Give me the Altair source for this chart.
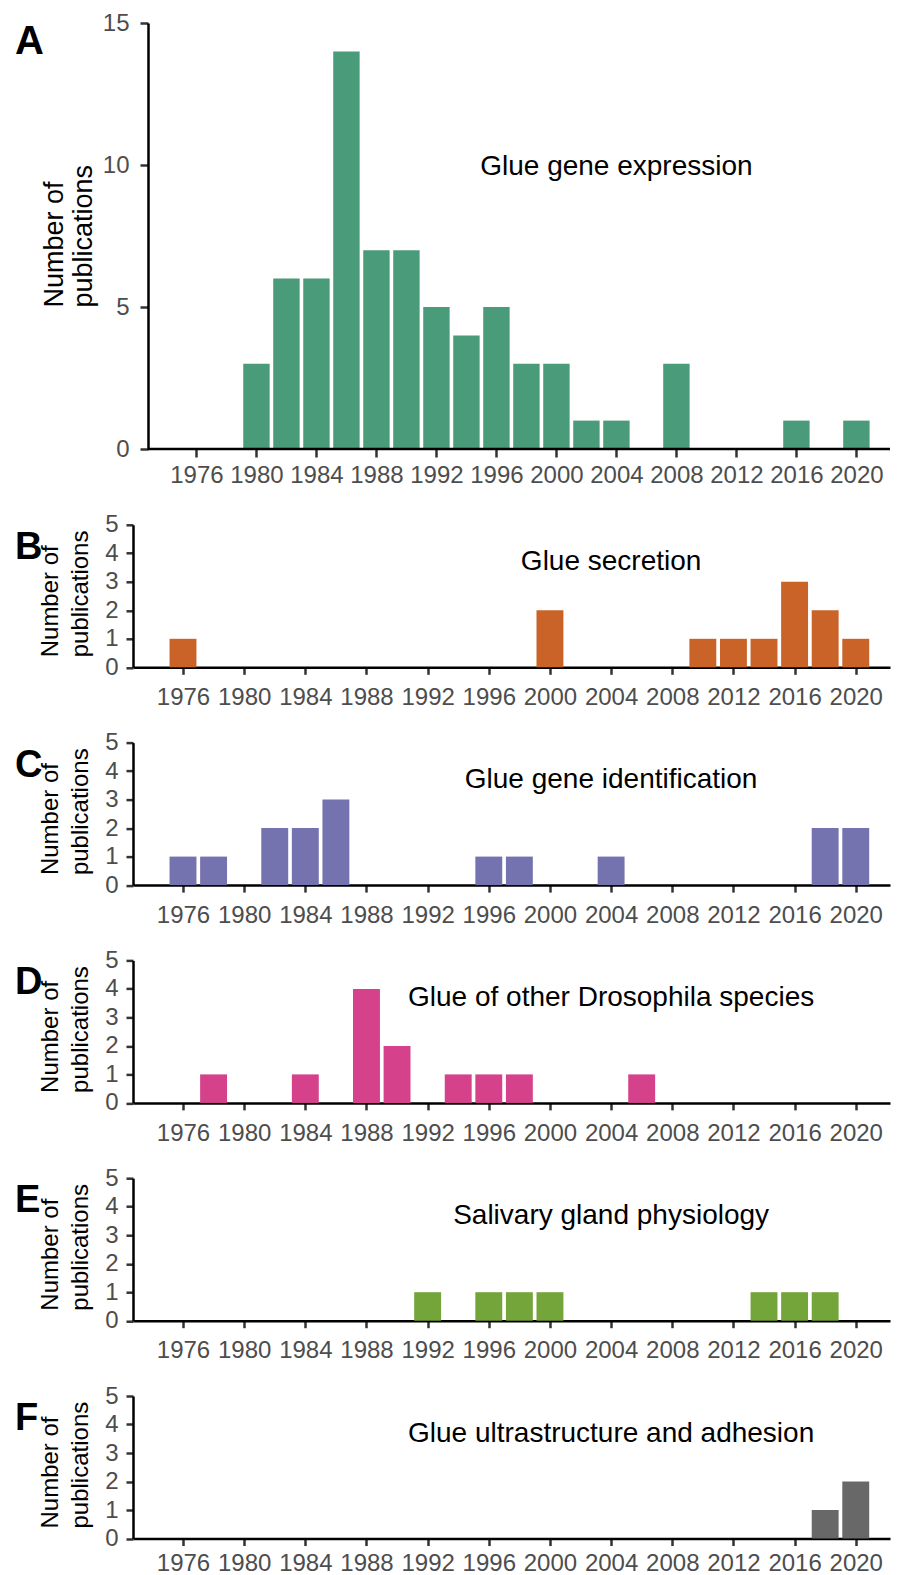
import altair as alt
import pandas as pd

# ---------------- data ----------------
year_ticks = list(range(1976, 2021, 4))

panel_letters = ["A", "B", "C", "D", "E", "F"]
panel_titles = [
    "Glue gene expression",
    "Glue secretion",
    "Glue gene identification",
    "Glue of other Drosophila species",
    "Salivary gland physiology",
    "Glue ultrastructure and adhesion",
]
panel_colors = ["#4a9b79", "#ca6327", "#7572b0", "#d5418a", "#74a53b", "#686868"]
panel_ymax = [15, 5, 5, 5, 5, 5]

expr_years = [1980, 1982, 1984, 1986, 1988, 1990, 1992, 1994, 1996, 1998, 2000, 2002, 2004, 2008, 2016, 2020]
expr_counts = [3, 6, 6, 14, 7, 7, 5, 4, 5, 3, 3, 1, 1, 3, 1, 1]

secr_years = [1976, 2000, 2010, 2012, 2014, 2016, 2018, 2020]
secr_counts = [1, 2, 1, 1, 1, 3, 2, 1]

ident_years = [1976, 1978, 1982, 1984, 1986, 1996, 1998, 2004, 2018, 2020]
ident_counts = [1, 1, 2, 2, 3, 1, 1, 1, 2, 2]

other_years = [1978, 1984, 1988, 1990, 1994, 1996, 1998, 2006]
other_counts = [1, 1, 4, 2, 1, 1, 1, 1]

saliv_years = [1992, 1996, 1998, 2000, 2014, 2016, 2018]
saliv_counts = [1, 1, 1, 1, 1, 1, 1]

ultra_years = [2018, 2020]
ultra_counts = [1, 2]

series = [
    (expr_years, expr_counts),
    (secr_years, secr_counts),
    (ident_years, ident_counts),
    (other_years, other_counts),
    (saliv_years, saliv_counts),
    (ultra_years, ultra_counts),
]

FONT = "Liberation Sans"
WIDTH = 757
# panel A uses 15 px/year and its y axis sits 15 px to the right of the others
DOMAIN_A = [1971.77, 2022.24]
DOMAIN_SMALL = [1972.73, 2022.24]


def make_panel(i):
    years, counts = series[i]
    big = i == 0
    last = i == len(series) - 1
    df = pd.DataFrame({"year": years, "count": counts})
    height = 426 if big else 142.5
    lab = 24
    ymax = panel_ymax[i]
    dom = DOMAIN_A if big else DOMAIN_SMALL

    xscale = alt.Scale(domain=dom, nice=False, zero=False)
    yscale = alt.Scale(domain=[0, ymax], nice=False, zero=True)

    xaxis = alt.Axis(
        values=year_ticks, format="d", title=None, grid=False,
        labelFontSize=lab, labelFont=FONT, labelColor="#4d4d4d",
        tickSize=8 if big else 7,
        labelPadding=6.8 if big else (5.5 if last else 11.2),
        labelFlush=False, labelOverlap=False,
        domain=not big,
        domainColor="black", domainWidth=2.5,
        tickColor="#333333", tickWidth=2.5,
    )
    yaxis = alt.Axis(
        values=list(range(0, ymax + 1, 5 if big else 1)), format="d",
        tickCount=4 if big else 6,
        title=["Number of", "publications"], grid=False,
        labelFontSize=lab, labelFont=FONT, labelColor="#4d4d4d",
        tickSize=8 if big else 7, labelPadding=11 if big else 8,
        labelFlush=False, labelOverlap=False, labelSeparation=0,
        domainColor="black", domainWidth=2.5,
        tickColor="#333333", tickWidth=2.5,
        offset=-15 if big else 0,
        titleFont=FONT, titleFontSize=27 if big else 24,
        titleFontWeight="normal", titleColor="black",
        titleLineHeight=29 if big else 30,
        titleAngle=270, titleAlign="left", titleBaseline="middle",
        titleX=-94 if big else -83, titleY=284 if big else 132,
    )

    bars = (
        alt.Chart(df)
        .transform_calculate(x0="datum.year - 0.88", x1="datum.year + 0.88")
        .mark_bar(color=panel_colors[i])
        .encode(
            x=alt.X("x0:Q", scale=xscale, axis=xaxis),
            x2="x1:Q",
            y=alt.Y("count:Q", scale=yscale, axis=yaxis),
            y2=alt.datum(0),
        )
    )

    layers = [bars]

    if big:
        # x axis line of panel A starts at its (shifted) y axis
        base_line = (
            alt.Chart(pd.DataFrame({"k": [0]}))
            .mark_rule(color="black", strokeWidth=2.5)
            .encode(
                x=alt.X(datum=dom[0] + 1, scale=xscale, axis=xaxis),
                x2=alt.datum(dom[1]),
                y=alt.Y(datum=0, scale=yscale, axis=yaxis),
            )
        )
        layers.append(base_line)

    title_text = (
        alt.Chart(pd.DataFrame({"t": [panel_titles[i]]}))
        .mark_text(font=FONT, fontSize=28, color="black", align="center",
                   baseline="middle", dy=2)
        .encode(
            x=alt.X(datum=2004, scale=xscale, axis=xaxis),
            y=alt.Y(datum=10 if big else 3.75, scale=yscale, axis=yaxis),
            text="t:N",
        )
    )
    layers.append(title_text)

    letter = (
        alt.Chart(pd.DataFrame({"l": [panel_letters[i]]}))
        .mark_text(font=FONT, fontSize=40 if big else 38, fontWeight="bold",
                   color="black", align="left", baseline="alphabetic")
        .encode(
            x=alt.value(-118),
            y=alt.value(31 if big else 34),
            text="l:N",
        )
    )
    layers.append(letter)

    return alt.layer(*layers).properties(width=WIDTH, height=height)


panels = [make_panel(i) for i in range(6)]

lower = alt.vconcat(*panels[1:], spacing=20.8)

chart = (
    alt.vconcat(panels[0], lower, spacing=24.8)
    .properties(padding={"left": 7, "top": 3, "right": 0, "bottom": 0})
    .configure(font=FONT)
    .configure_view(stroke="transparent", strokeWidth=0)
    .configure_axis(grid=False, domainColor="black", domainWidth=2.5,
                    tickColor="#333333", tickWidth=2.5, labelOverlap=False)
)

chart.save("out.html", embed_options={"renderer": "svg", "actions": False})
